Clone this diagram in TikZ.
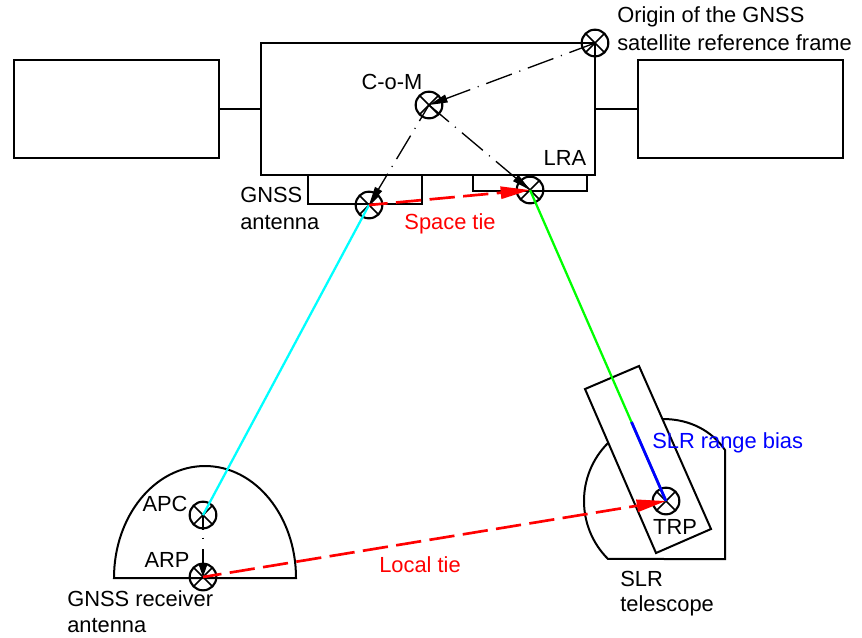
\documentclass[tikz,border=0pt]{standalone}
\usepackage{fontspec}
\setmainfont{Liberation Sans}
\usetikzlibrary{arrows.meta}
\definecolor{purecyan}{RGB}{0,255,255}
\definecolor{puregreen}{RGB}{0,255,0}
\definecolor{pureblue}{RGB}{0,0,255}
\definecolor{purered}{RGB}{255,0,0}
\tikzset{
  outline/.style={draw=black,line width=1.5pt,line join=miter},
  target/.style={circle,draw=black,line width=1.6pt,minimum size=20pt,inner sep=0pt,
    path picture={\draw[line width=1.2pt] (path picture bounding box.north west)--(path picture bounding box.south east)
      (path picture bounding box.north east)--(path picture bounding box.south west);}},
  vector/.style={line width=1pt,dash pattern=on 20.5pt off 6pt on 0.8pt off 6pt,-{Triangle[length=14pt,width=6pt]}},
  tie/.style={purered,line width=2pt,dash pattern=on 19pt off 6.3pt,dash phase=5pt,-{Triangle[length=22pt,width=9pt]}},
  lbl/.style={font=\fontsize{16.4pt}{20pt}\selectfont,inner sep=0pt,align=left}
}
\begin{document}
\begin{tikzpicture}[x=0.75pt,y=-0.75pt]
\useasboundingbox (0,0) rectangle (862,637);
% boxes
\node[outline,minimum width=153.75pt,minimum height=73.5pt,inner sep=0pt] (left) at (116.5,109) {};
\node[outline,minimum width=250.5pt,minimum height=99pt,inner sep=0pt] (bus) at (428,109) {};
\node[outline,minimum width=153.75pt,minimum height=73.5pt,inner sep=0pt] (right) at (740.5,109) {};
\draw[outline] (left.east) -- (bus.west);
\draw[outline] (bus.east) -- (right.west);
\draw[outline] (307.5,175) -- (307.5,204) -- (422,204) -- (422,175);
\draw[outline] (473,175) -- (473,190.5) -- (587,190.5) -- (587,175);
% receiver dome
\draw[outline] (114,578) arc[start angle=180,end angle=360,x radius=91,y radius=112] -- cycle;
% telescope mount
\draw[outline] (608,443) arc (225:135:82) -- (725,559) -- (725,450) .. controls (712,431) and (690,419) .. (663,419);
\draw[outline] (585,389) -- (639,366) -- (711,529) -- (656,553) -- cycle;
% points
\node[target] (origin) at (595,43) {};
\node[target] (com) at (429,105) {};
\node[target] (ant) at (369,205) {};
\node[target] (lra) at (530,190) {};
\node[target] (apc) at (203,515) {};
\node[target] (arp) at (203,577) {};
\node[target] (trp) at (666,501) {};
\coordinate (biasstart) at (631.5,422);
% vectors
\draw[vector] (origin.center) -- (com.center);
\draw[vector,dash phase=6.5pt] (com.center) -- (ant.center);
\draw[vector,dash phase=1pt] (com.center) -- (lra.center);
\draw[vector,dash pattern=on 11pt off 6pt on 0.8pt off 8pt on 40pt,-{Triangle[length=9pt,width=6pt]}] (apc.center) -- (arp.center);
% ranges
\draw[purecyan,line width=1.7pt] (ant.center) -- (apc.center);
\draw[puregreen,line width=1.7pt] (lra.center) -- (trp.center);
\draw[pureblue,line width=2.1pt] (biasstart) -- (trp.center);
% ties
\draw[tie] (ant.center) -- (lra.center);
\draw[tie] (arp.center) -- (trp.center);
% labels
\node[lbl,anchor=west] (l1) at (617,17) {Origin of the GNSS};
\node[lbl,anchor=west] (l2) at (617,42.5) {satellite reference frame};
\node[lbl] (l3) at (392,82) {C-o-M};
\node[lbl] (l4) at (565,158) {LRA};
\node[lbl,anchor=west] (l5) at (240,195) {GNSS};
\node[lbl,anchor=west] (l6) at (240,223) {antenna};
\node[lbl,purered] (l7) at (450,224) {Space tie};
\node[lbl] (l8) at (165,504) {APC};
\node[lbl] (l9) at (167,560) {ARP};
\node[lbl,anchor=west] (l10) at (67,599) {GNSS receiver};
\node[lbl,anchor=west] (l11) at (67,626) {antenna};
\node[lbl,purered] (l12) at (420,565) {Local tie};
\node[lbl,anchor=west,pureblue] (l13) at (652,443) {SLR range bias};
\node[lbl] (l14) at (675,527) {TRP};
\node[lbl,anchor=west] (l15) at (620,579) {SLR};
\node[lbl,anchor=west] (l16) at (620,606) {telescope};
\end{tikzpicture}
\end{document}
